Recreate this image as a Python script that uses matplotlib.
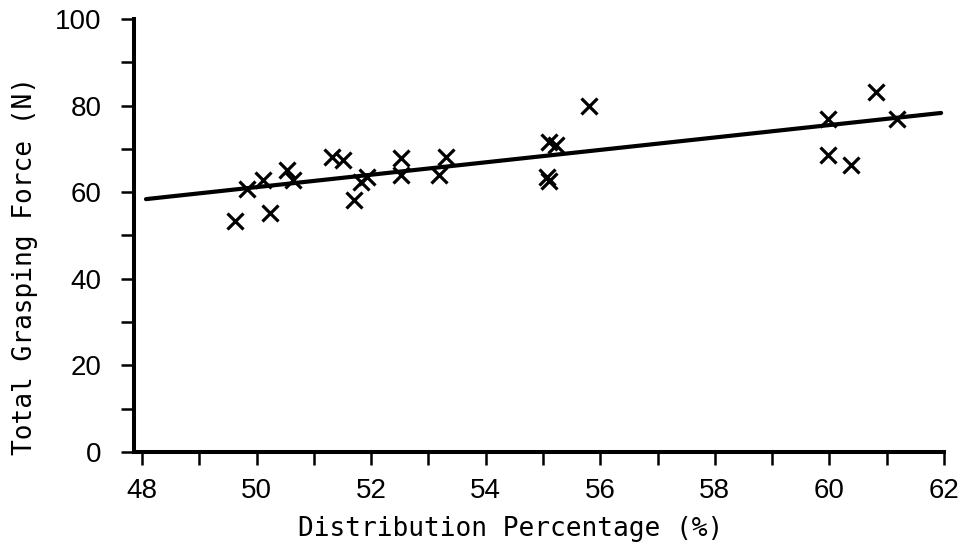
import matplotlib.pyplot as plt
from matplotlib.ticker import MultipleLocator

# Data
dist_pct = [49.63, 50.24, 49.84, 50.12, 50.53, 50.64, 51.32, 51.51, 51.70, 51.82,
            51.92, 52.53, 52.53, 53.19, 53.31, 55.10, 55.22, 55.07, 55.10, 55.81,
            59.98, 59.98, 60.38, 60.82, 61.18]
grasp_force = [53.3, 55.3, 60.7, 62.8, 65.1, 62.8, 68.1, 67.4, 58.1, 62.3,
               63.5, 67.9, 64.0, 64.0, 68.1, 71.6, 70.9, 63.4, 62.6, 79.8,
               77.0, 68.6, 66.3, 83.2, 77.0]
# Regression line ends
fit_x = [48.07, 61.95]
fit_y = [58.4, 78.3]

tick_font = ['Liberation Sans', 'DejaVu Sans']
label_font = ['DejaVu Sans Mono']

fig = plt.figure(figsize=(9.61, 5.49), dpi=100)
ax = fig.add_axes([0.1394, 0.1767, 0.8429, 0.7887])

ax.plot(fit_x, fit_y, color='black', lw=3, solid_capstyle='round')
ax.plot(dist_pct, grasp_force, 'x', color='black', markersize=11, mew=2.3)

ax.set_xlim(47.86, 62.0)
ax.set_ylim(0, 100)

for side in ['top', 'right']:
    ax.spines[side].set_visible(False)
for side in ['left', 'bottom']:
    ax.spines[side].set_linewidth(2.9)

ax.xaxis.set_major_locator(MultipleLocator(2))
ax.xaxis.set_minor_locator(MultipleLocator(1))
ax.yaxis.set_major_locator(MultipleLocator(20))
ax.yaxis.set_minor_locator(MultipleLocator(10))
ax.tick_params(which='both', direction='out', length=9.5, width=1.8, color='black')
ax.tick_params(axis='x', pad=9)
ax.tick_params(axis='y', pad=14)

for lab in ax.get_xticklabels() + ax.get_yticklabels():
    lab.set_family(tick_font)
    lab.set_fontsize(20)

ax.set_xlabel('Distribution Percentage (%)', family=label_font, fontsize=18.9,
              labelpad=9, x=0.465)
ax.set_ylabel('Total Grasping Force (N)', family=label_font, fontsize=18.9,
              labelpad=12, y=0.43)

plt.savefig('out.png', dpi=100)
